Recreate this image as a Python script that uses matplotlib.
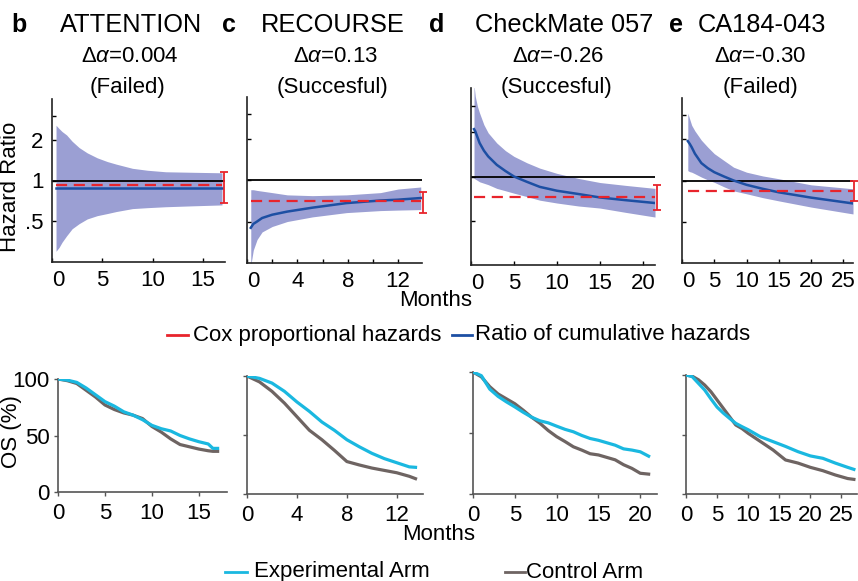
import matplotlib
matplotlib.use("Agg")
import matplotlib.pyplot as plt
from matplotlib.ticker import FixedLocator, NullLocator
from matplotlib.transforms import ScaledTranslation

plt.rcParams['font.family'] = ['Liberation Sans', 'DejaVu Sans']
plt.rcParams['mathtext.fontset'] = 'custom'
plt.rcParams['mathtext.rm'] = 'Liberation Sans'
plt.rcParams['mathtext.it'] = 'Liberation Sans:italic'

# trial names, panel letters and the time-varying HR annotation
trials = ["ATTENTION", "RECOURSE", "CheckMate 057", "CA184-043"]
letters = ["b", "c", "d", "e"]
delta_alpha = ["0.004", "0.13", "-0.26", "-0.30"]
outcome = ["(Failed)", "(Succesful)", "(Succesful)", "(Failed)"]

# ratio of cumulative hazards with its band (months, HR)
attention_t = [0.4, 0.7, 1.0, 1.45, 2.0, 2.7, 3.5, 4.5, 5.5, 6.4, 8.0, 9.5, 11.3, 14.0, 16.9]
attention_ratio = [0.88, 0.88, 0.88, 0.88, 0.88, 0.88, 0.88, 0.88, 0.88, 0.88, 0.88, 0.88, 0.88, 0.88, 0.88]
attention_hi = [2.56, 2.42, 2.30, 2.17, 1.95, 1.75, 1.60, 1.47, 1.38, 1.32, 1.23, 1.19, 1.16, 1.15, 1.14]
attention_lo = [0.30, 0.32, 0.35, 0.39, 0.44, 0.48, 0.52, 0.55, 0.57, 0.59, 0.62, 0.63, 0.64, 0.65, 0.66]

recourse_t = [0.3, 0.5, 0.8, 1.2, 2.0, 3.2, 5.2, 7.9, 10.6, 12.0, 13.8]
recourse_ratio = [0.45, 0.48, 0.50, 0.53, 0.56, 0.59, 0.63, 0.68, 0.71, 0.72, 0.74]
recourse_hi = [0.85, 0.85, 0.84, 0.83, 0.81, 0.78, 0.77, 0.78, 0.81, 0.86, 0.89]
recourse_lo = [0.24, 0.31, 0.37, 0.42, 0.46, 0.50, 0.54, 0.58, 0.60, 0.605, 0.61]

checkmate_t = [0.35, 0.5, 0.75, 1.0, 1.5, 2.0, 3.0, 4.0, 5.0, 6.5, 8.0, 10.0, 12.5, 15.0, 18.0, 21.4]
checkmate_ratio = [2.10, 2.03, 1.85, 1.69, 1.50, 1.37, 1.20, 1.09, 1.00, 0.92, 0.85, 0.80, 0.76, 0.72, 0.69, 0.66]
checkmate_hi = [4.20, 3.50, 3.00, 2.70, 2.25, 1.98, 1.69, 1.50, 1.37, 1.24, 1.14, 1.05, 0.97, 0.91, 0.87, 0.83]
checkmate_lo = [0.97, 0.96, 0.94, 0.92, 0.90, 0.88, 0.83, 0.80, 0.77, 0.73, 0.69, 0.66, 0.63, 0.61, 0.57, 0.53]

ca184_t = [0.9, 1.2, 1.5, 2.0, 3.0, 4.0, 5.0, 6.5, 8.0, 10.0, 12.5, 15.0, 20.0, 26.5]
ca184_ratio = [1.94, 1.85, 1.75, 1.57, 1.34, 1.23, 1.15, 1.07, 1.00, 0.93, 0.87, 0.82, 0.75, 0.68]
ca184_hi = [3.10, 2.80, 2.53, 2.30, 1.97, 1.75, 1.57, 1.40, 1.25, 1.15, 1.08, 1.03, 0.93, 0.87]
ca184_lo = [1.18, 1.16, 1.15, 1.12, 1.06, 1.01, 0.97, 0.90, 0.84, 0.80, 0.75, 0.71, 0.64, 0.57]

# Cox HR estimate and 95% CI
cox_hr = [0.92, 0.70, 0.72, 0.84]
cox_lo = [0.68, 0.58, 0.59, 0.71]
cox_hi = [1.16, 0.82, 0.88, 1.00]

# Kaplan-Meier overall survival (months, %)
attention_km_t = [0, 1, 2, 3, 4, 5, 6, 7, 8, 9, 10, 11, 12, 13, 14, 15, 16, 16.5, 17]
attention_km_exp = [100, 99, 97, 92, 86, 80, 76, 71, 68, 64, 59, 56, 54, 50, 47, 44.5, 42.5, 38.6, 38.6]
attention_km_ctl = [100, 98.5, 96, 90, 84, 77, 73, 70, 68, 65, 58, 53, 47, 42, 40, 38, 36.5, 36, 36]

recourse_km_t = [0, 1, 2, 3, 4, 5, 6, 7, 8, 9, 10, 11, 12, 13, 13.5]
recourse_km_exp = [100, 98, 94, 87, 78, 70, 61, 54, 46, 40, 34.5, 30, 26.5, 23, 22.6]
recourse_km_ctl = [100, 95, 87, 77, 65.5, 54, 46, 37, 27.5, 24.6, 22, 20, 18, 15, 13]

checkmate_km_t = [0, 1, 2, 3, 4, 5, 6, 7, 8, 9, 10, 11, 12, 13, 14, 15, 16, 17, 18, 19, 20, 21]
checkmate_km_exp = [100, 97, 86, 80, 75.5, 71.4, 67, 63, 60, 58.3, 55.6, 53, 51, 48, 45.5, 44, 42, 40, 37, 36, 34.6, 31]
checkmate_km_ctl = [100, 96, 88, 82, 78, 74, 68.7, 63, 58, 52, 47, 43, 38.7, 36, 33, 32, 30, 28, 24, 21, 17, 16.3]

ca184_km_t = [0, 1, 2, 3, 4, 5, 6, 7, 8, 9, 10, 12, 14, 16, 18, 20, 22, 24, 26, 27]
ca184_km_exp = [100, 98.6, 93, 87.4, 80, 73, 68, 63.6, 59.4, 56.6, 54, 48, 44, 40, 35.6, 32, 30, 26, 22.4, 20.7]
ca184_km_ctl = [100, 99, 96, 91.6, 86, 79, 72, 65, 58, 55, 51, 44, 37, 28.6, 26, 22.4, 19.6, 16, 13, 12.3]

hr_curves = [
    (attention_t, attention_ratio, attention_hi, attention_lo),
    (recourse_t, recourse_ratio, recourse_hi, recourse_lo),
    (checkmate_t, checkmate_ratio, checkmate_hi, checkmate_lo),
    (ca184_t, ca184_ratio, ca184_hi, ca184_lo),
]
km_curves = [
    (attention_km_t, attention_km_exp, attention_km_ctl),
    (recourse_km_t, recourse_km_exp, recourse_km_ctl),
    (checkmate_km_t, checkmate_km_exp, checkmate_km_ctl),
    (ca184_km_t, ca184_km_exp, ca184_km_ctl),
]
hr_ticks = [[0, 5, 10, 15], [0, 4, 8, 12], [0, 5, 10, 15, 20], [0, 5, 10, 15, 20, 25]]
hr_minor = [[], [2, 6, 10], [], []]
hr_xmax = [17.2, 13.9, 21.4, 26.5]
km_xmax = [18.0, 14.1, 22.0, 27.5]

BAND = "#9b9fd3"
BLUE = "#1d4fa3"
RED = "#e8242c"
CYAN = "#1ab8e0"
GREY = "#6e6462"
FS = 16

W, H = 858, 581
fig = plt.figure(figsize=(W / 100, H / 100), dpi=100)


def px_axes(left, right, top, bottom):
    return fig.add_axes([left / W, 1 - bottom / H, (right - left) / W, (bottom - top) / H])


def px_text(x, y, s, **kw):
    fig.text(x / W, 1 - y / H, s, ha=kw.pop("ha", "center"), va=kw.pop("va", "center"), **kw)


top_boxes = [(52, 225, 99, 262), (247, 422, 97, 263), (471, 655, 88, 265), (682, 853, 98, 263)]
km_boxes = [(58, 227, 379, 492), (247, 423, 376, 494), (473, 657, 372, 494), (686, 857, 375, 494)]

letter_x = [19, 229, 437, 676]
title_x = [131, 333, 564, 762]
delta_x = [130, 335, 558, 760]
outcome_x = [127, 333, 557, 760]
zero_shift = ScaledTranslation(6 / 100, 0, fig.dpi_scale_trans)

for i in range(4):
    t, ratio, hi, lo = hr_curves[i]
    ax = px_axes(*top_boxes[i])
    ax.set_yscale("log")
    ax.fill_between(t, lo, hi, color=BAND, lw=0, zorder=1)
    ax.axhline(1, color="black", lw=1.3, zorder=2)
    ax.plot(t, ratio, color=BLUE, lw=1.8, zorder=3)
    ax.plot([t[0], t[-1]], [cox_hr[i], cox_hr[i]], color=RED, lw=1.6,
            dashes=(5, 3), zorder=4)
    xe = min(t[-1] + 0.2, hr_xmax[i] + 0.3)
    ax.errorbar([xe], [cox_hr[i]], yerr=[[cox_hr[i] - cox_lo[i]], [cox_hi[i] - cox_hr[i]]],
                fmt="none", ecolor=RED, elinewidth=1.3, capsize=3, capthick=1.3,
                clip_on=False, zorder=5)
    ax.set_xlim(0, hr_xmax[i])
    ax.set_ylim(0.25, 4)
    ax.yaxis.set_major_locator(FixedLocator([0.5, 1, 2, 3]))
    ax.yaxis.set_minor_locator(NullLocator())
    ax.xaxis.set_major_locator(FixedLocator(hr_ticks[i]))
    ax.xaxis.set_minor_locator(FixedLocator(hr_minor[i]))
    if i == 0:
        ax.set_yticklabels([".5", "1", "2", ""])
    else:
        ax.set_yticklabels([])
    ax.set_xticklabels([str(v) for v in hr_ticks[i]])
    ax.tick_params(direction="in", length=3, width=1, labelsize=FS, pad=6)
    ax.tick_params(axis="x", which="minor", direction="in", length=3, width=1)
    # the "0" label sits a little right of the spine
    first = ax.get_xticklabels()[0]
    first.set_transform(first.get_transform() + zero_shift)
    for s in ("top", "right"):
        ax.spines[s].set_visible(False)
    for s in ("left", "bottom"):
        ax.spines[s].set_linewidth(1.2)
        ax.spines[s].set_color("#222222")

    px_text(letter_x[i], 25, letters[i], fontsize=18, fontweight="bold")
    px_text(title_x[i], 25, trials[i], fontsize=18.3)
    px_text(delta_x[i], 56, "Δ$\\mathit{α}$=" + delta_alpha[i], fontsize=FS)
    px_text(outcome_x[i], 88, outcome[i], fontsize=FS)

    km_t, km_exp, km_ctl = km_curves[i]
    bx = px_axes(*km_boxes[i])
    bx.plot(km_t, km_ctl, color=GREY, lw=2.3, zorder=2)
    bx.plot(km_t, km_exp, color=CYAN, lw=2.3, zorder=3)
    bx.set_xlim(0, km_xmax[i])
    bx.set_ylim(0, 100)
    bx.set_yticks([0, 50, 100])
    bx.set_xticks(hr_ticks[i])
    if i > 0:
        bx.set_yticklabels([])
    bx.tick_params(direction="out", length=3, width=1, labelsize=FS, pad=3, color="#555555")
    bx.tick_params(axis="x", pad=5)
    for s in ("top", "right"):
        bx.spines[s].set_visible(False)
    for s in ("left", "bottom"):
        bx.spines[s].set_linewidth(1.2)
        bx.spines[s].set_color("#555555")

px_text(11, 187, "Hazard Ratio", fontsize=FS, rotation=90)
px_text(12, 432, "OS (%)", fontsize=FS, rotation=90)
px_text(436, 301, "Months", fontsize=FS)
px_text(439, 534, "Months", fontsize=FS)


# legends drawn as short line samples plus text
def legend_item(x0, x1, y, gap, color, label):
    fig.add_artist(plt.Line2D([x0 / W, x1 / W], [1 - y / H, 1 - y / H], color=color, lw=2.0,
                              transform=fig.transFigure))
    px_text(x1 + gap, y, label, fontsize=FS, ha="left")


legend_item(167, 188, 335, 5, RED, "Cox proportional hazards")
legend_item(452, 472, 335, 3, BLUE, "Ratio of cumulative hazards")
legend_item(225, 247, 572, 7, CYAN, "Experimental Arm")
legend_item(505, 525, 572, 1, GREY, "Control Arm")

fig.savefig("out.png", dpi=100)
